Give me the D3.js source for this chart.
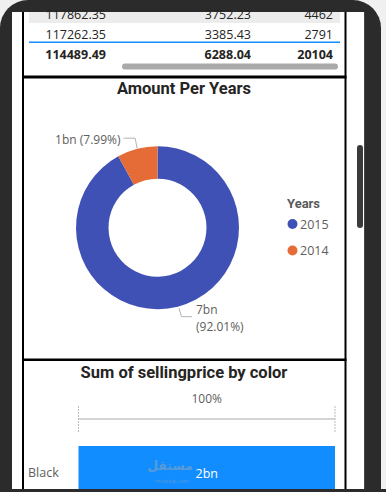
<!DOCTYPE html>
<html><head><meta charset="utf-8">
<script src="https://cdn.jsdelivr.net/npm/d3@7"></script>
<style>html,body{margin:0;padding:0;background:#f0f0f0;overflow:hidden}svg{display:block}</style>
</head><body>
<svg id="c" width="386" height="492"></svg>
<script>
// ---- data ----
const tableCol1 = ["117862.35", "117262.35"];
const tableCol2 = ["3752.23", "3385.43"];
const tableCol3 = ["4462", "2791"];
const tableTotals = ["114489.49", "6288.04", "20104"];

const years = ["2015", "2014"];
const yearAmounts = [7.1e9, 0.6166e9];
const yearLabels = ["7bn", "1bn"];
const yearColors = ["#4051B5", "#E66C37"];

const barColors = ["Black"];
const sellingPrice = [2.0e9];
const sellingLabels = ["2bn"];
const barAxisLabel = ["100%"];

// ---- frame ----
const svg = d3.select("#c");
const W = 386, H = 492;
svg.append("rect").attr("x", 0).attr("y", 0).attr("width", 381).attr("height", 560).attr("rx", 28).attr("fill", "#2b2b2b");
svg.append("rect").attr("x", 0).attr("y", 40).attr("width", 381).attr("height", 452).attr("fill", "#2b2b2b");
svg.append("rect").attr("x", 12).attr("y", 12).attr("width", 352).attr("height", 477).attr("fill", "#ffffff");
svg.append("rect").attr("x", 364).attr("y", 12).attr("width", 1).attr("height", 477).attr("fill", "#444");
// vertical scrollbar
svg.append("rect").attr("x", 357).attr("y", 145).attr("width", 6).attr("height", 83).attr("rx", 3).attr("fill", "#3a3a3a");

const FONT = "'Open Sans', 'Noto Sans', sans-serif";
const TITLE = "'Roboto', 'DejaVu Sans', sans-serif";

// ---- table ----
const tbl = svg.append("g");
const rowY = d3.scaleBand().domain(d3.range(tableCol1.length)).range([3, 43]).paddingInner(0);
const colX = [106, 251, 333];
tbl.append("rect").attr("x", 29).attr("y", 12).attr("width", 311).attr("height", rowY(1) - 12).attr("fill", "#ececec");
[tableCol1, tableCol2, tableCol3].forEach((col, ci) => {
  tbl.selectAll(null).data(col).enter().append("text")
    .attr("x", colX[ci]).attr("y", (d, i) => rowY(i) + rowY.bandwidth() / 2 + 1)
    .attr("text-anchor", "end").attr("dominant-baseline", "central")
    .attr("font-family", FONT).attr("font-size", 12.5).attr("fill", "#252423").text(d => d);
});
tbl.append("rect").attr("x", 29).attr("y", 41.5).attr("width", 311).attr("height", 1.5).attr("fill", "#118DFF");
tbl.selectAll(null).data(tableTotals).enter().append("text")
  .attr("x", (d, i) => colX[i]).attr("y", 54)
  .attr("text-anchor", "end").attr("dominant-baseline", "central")
  .attr("font-family", FONT).attr("font-weight", 700).attr("font-size", 12.5).attr("fill", "#252423").text(d => d);
tbl.append("rect").attr("x", 122).attr("y", 63.5).attr("width", 216).attr("height", 6).attr("rx", 3).attr("fill", "#aaaaaa");

// visual borders
svg.append("rect").attr("x", 22).attr("y", 12).attr("width", 2).attr("height", 477).attr("fill", "#000");
svg.append("rect").attr("x", 344.5).attr("y", 12).attr("width", 2).attr("height", 477).attr("fill", "#000");
svg.append("rect").attr("x", 22).attr("y", 75.5).attr("width", 324.5).attr("height", 3).attr("fill", "#000");
svg.append("rect").attr("x", 22).attr("y", 358.5).attr("width", 324.5).attr("height", 2.5).attr("fill", "#000");

// ---- donut ----
svg.append("text").attr("x", 184).attr("y", 88).attr("text-anchor", "middle").attr("dominant-baseline", "central")
  .attr("font-family", TITLE).attr("font-weight", 700).attr("font-size", 16.5).attr("fill", "#252423").text("Amount Per Years");

const cx = 157.5, cy = 227.7;
const pie = d3.pie().sort(null).value(d => d);
const arcs = pie(yearAmounts);
const arc = d3.arc().innerRadius(49).outerRadius(81.5);
const total = d3.sum(yearAmounts);
const dg = svg.append("g").attr("transform", `translate(${cx},${cy})`);
dg.selectAll("path").data(arcs).enter().append("path").attr("d", arc).attr("fill", (d, i) => yearColors[i]);

// leader lines + labels
const lineColor = "#b3b3b3";
{
  const a = arcs[1];
  const mid = (a.startAngle + a.endAngle) / 2;
  const p0 = [Math.sin(mid) * 82, -Math.cos(mid) * 82];
  dg.append("path").attr("fill", "none").attr("stroke", lineColor).attr("stroke-width", 1)
    .attr("d", d3.line()([p0, [p0[0] - 2, -89.5], [-34, -89.5]]));
  dg.append("text").attr("x", -37).attr("y", -88).attr("text-anchor", "end").attr("dominant-baseline", "central")
    .attr("font-family", FONT).attr("font-size", 12).attr("fill", "#605E5C")
    .text(`${yearLabels[1]} (${(yearAmounts[1] / total * 100).toFixed(2)}%)`);
}
{
  const p0 = [21.5, 80.5];
  dg.append("path").attr("fill", "none").attr("stroke", lineColor).attr("stroke-width", 1)
    .attr("d", d3.line()([p0, [24, 89], [34.5, 89]]));
  dg.append("text").attr("x", 38.5).attr("y", 82).attr("dominant-baseline", "central")
    .attr("font-family", FONT).attr("font-size", 12).attr("fill", "#605E5C").text(yearLabels[0]);
  dg.append("text").attr("x", 38.5).attr("y", 98.5).attr("dominant-baseline", "central")
    .attr("font-family", FONT).attr("font-size", 12).attr("fill", "#605E5C")
    .text(`(${(yearAmounts[0] / total * 100).toFixed(2)}%)`);
}
// legend
svg.append("text").attr("x", 287).attr("y", 203).attr("dominant-baseline", "central")
  .attr("font-family", TITLE).attr("font-weight", 700).attr("font-size", 13).attr("fill", "#5a5a5a").text("Years");
const leg = svg.selectAll(".leg").data(years).enter().append("g").attr("transform", (d, i) => `translate(292.5,${224 + i * 26.5})`);
leg.append("circle").attr("r", 5).attr("fill", (d, i) => yearColors[i]);
leg.append("text").attr("x", 7.5).attr("dominant-baseline", "central").attr("font-family", FONT).attr("font-size", 12.5)
  .attr("fill", "#605E5C").text(d => d);

// ---- bar chart ----
svg.append("text").attr("x", 184).attr("y", 372).attr("text-anchor", "middle").attr("dominant-baseline", "central")
  .attr("font-family", TITLE).attr("font-weight", 700).attr("font-size", 16.5).attr("fill", "#252423").text("Sum of sellingprice by color");
const barTotal = d3.sum(sellingPrice);
const xs = d3.scaleLinear().domain([0, 1]).range([78.5, 335]);
const ys = d3.scaleBand().domain(barColors).range([446, 500]).paddingInner(0);
svg.append("text").attr("x", (xs(0) + xs(1)) / 2).attr("y", 398).attr("text-anchor", "middle").attr("dominant-baseline", "central")
  .attr("font-family", FONT).attr("font-size", 12).attr("fill", "#605E5C").text(barAxisLabel[0]);
svg.append("line").attr("x1", xs(0)).attr("x2", xs(1)).attr("y1", 419).attr("y2", 419).attr("stroke", "#aaaaaa").attr("stroke-width", 1);
svg.selectAll(".tk").data([0, 1]).enter().append("line")
  .attr("x1", d => xs(d)).attr("x2", d => xs(d)).attr("y1", 406).attr("y2", 432)
  .attr("stroke", "#bbbbbb").attr("stroke-width", 1).attr("stroke-dasharray", "2,1");
svg.selectAll(".bar").data(sellingPrice).enter().append("rect")
  .attr("x", xs(0)).attr("y", (d, i) => ys(barColors[i]))
  .attr("width", d => xs(d / barTotal) - xs(0)).attr("height", ys.bandwidth()).attr("fill", "#118DFF");
svg.selectAll(".cat").data(barColors).enter().append("text")
  .attr("x", 28).attr("y", 472).attr("dominant-baseline", "central")
  .attr("font-family", FONT).attr("font-size", 12.5).attr("fill", "#605E5C").text(d => d);
// watermark
svg.append("text").attr("x", 170).attr("y", 465.5).attr("text-anchor", "middle").attr("dominant-baseline", "central")
  .attr("font-family", "'Noto Sans', 'DejaVu Sans', sans-serif").attr("font-weight", 700).attr("font-size", 12.5)
  .attr("fill", "#6a9fd0").attr("opacity", 0.8).text("مستقل");
svg.append("text").attr("x", 172).attr("y", 481).attr("text-anchor", "middle").attr("dominant-baseline", "central")
  .attr("font-family", FONT).attr("font-size", 5.5).attr("fill", "#6a9fd0").attr("opacity", 0.8).text("mostaql.com");
svg.selectAll(".bl").data(sellingPrice).enter().append("text")
  .attr("x", d => (xs(0) + xs(d / barTotal)) / 2).attr("y", 473).attr("text-anchor", "middle").attr("dominant-baseline", "central")
  .attr("font-family", FONT).attr("font-size", 12.5).attr("fill", "#ffffff").text((d, i) => sellingLabels[i]);
svg.append("rect").attr("x", 0).attr("y", 489).attr("width", W).attr("height", 3).attr("fill", "#2b2b2b");
</script>
</body></html>
